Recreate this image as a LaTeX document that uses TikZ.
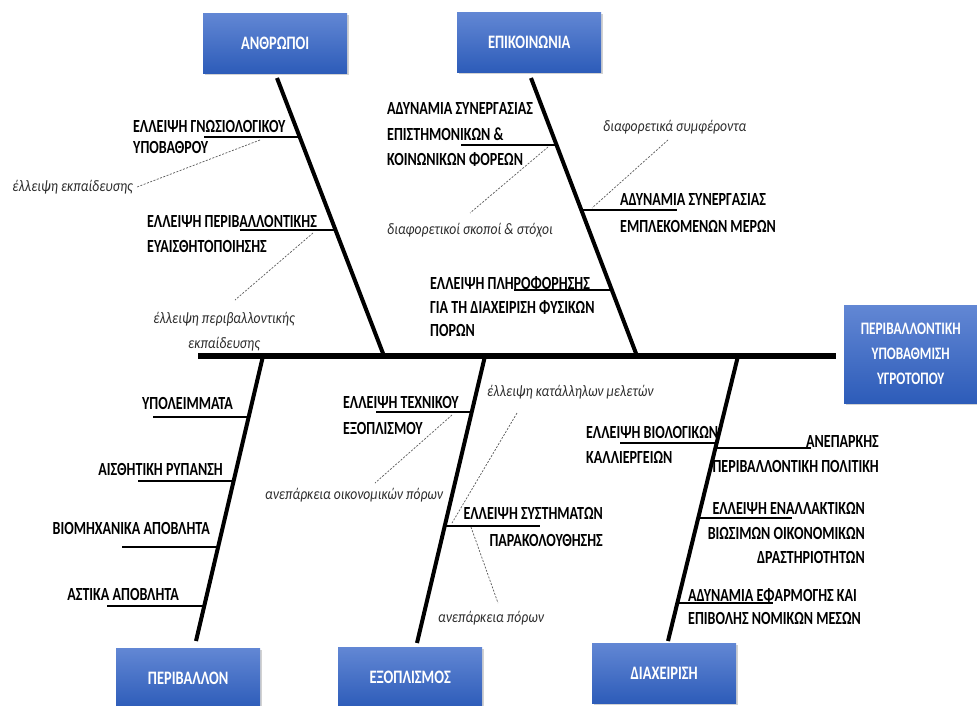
\documentclass[tikz,border=0pt]{standalone}
\usepackage{fontspec}
\newfontfamily\cf[FakeStretch=0.76]{Carlito}
\newfontfamily\cfi[FakeStretch=0.85]{Carlito}
\usetikzlibrary{shadows,calc}
\definecolor{boxtop}{RGB}{98,135,212}
\definecolor{boxbot}{RGB}{45,92,185}
\definecolor{dashgray}{RGB}{90,90,90}
\definecolor{ital}{RGB}{45,45,45}
\begin{document}
\begin{tikzpicture}[x=1pt,y=-1pt,
  catbox/.style={draw=none, top color=boxtop, bottom color=boxbot, minimum width=144pt, minimum height=60pt, inner sep=0pt, text=white, font=\cf\bfseries\fontsize{19}{25}\selectfont, drop shadow={shadow xshift=2pt,shadow yshift=-2pt,opacity=0.35}, anchor=north west},
  cause/.style={inner sep=0pt, font=\cf\bfseries\fontsize{18.5}{#1}\selectfont},
  cause/.default=24,
  note/.style={inner sep=0pt, text=ital, font=\cfi\itshape\fontsize{16}{#1}\selectfont},
  note/.default=25,
  bone/.style={line width=4pt},
  spine/.style={line width=6pt},
  twig/.style={line width=2pt},
  hint/.style={draw=dashgray, line width=0.7pt, dash pattern=on 2pt off 1.5pt}
]
\useasboundingbox[fill=white] (0,0) rectangle (977,705);

% category boxes
\node[catbox] (anth) at (203,13) {ΑΝΘΡΩΠΟΙ};
\node[catbox] (epik) at (457,12) {ΕΠΙΚΟΙΝΩΝΙΑ};
\node[catbox] (peri) at (116,648) {ΠΕΡΙΒΑΛΛΟΝ};
\node[catbox] (exop) at (338,647) {ΕΞΟΠΛΙΣΜΟΣ};
\node[catbox] (diax) at (592,643) {ΔΙΑΧΕΙΡΙΣΗ};
\node[catbox, minimum width=133pt, minimum height=98pt, align=center, font=\cf\bfseries\fontsize{17.5}{25}\selectfont] (eff) at (844,305) {ΠΕΡΙΒΑΛΛΟΝΤΙΚΗ\\ΥΠΟΒΑΘΜΙΣΗ\\ΥΓΡΟΤΟΠΟΥ};

% spine and bones
\coordinate (spL) at (198,356);
\coordinate (spR) at (836,356);
\coordinate (anTop) at (277,78);  \coordinate (anBot) at (384,356);
\coordinate (epTop) at (531,78);  \coordinate (epBot) at (637,356);
\coordinate (peTop) at (263,356); \coordinate (peBot) at (196,641);
\coordinate (exTop) at (485,356); \coordinate (exBot) at (417,643);
\coordinate (diTop) at (738,356); \coordinate (diBot) at (668,641);
\draw[spine] (spL) -- (spR);
\draw[bone] (anTop) -- (anBot);
\draw[bone] (epTop) -- (epBot);
\draw[bone] (peTop) -- (peBot);
\draw[bone] (exTop) -- (exBot);
\draw[bone] (diTop) -- (diBot);

% twigs
\draw[twig] ($(anTop)!0.2122!(anBot)$) coordinate (a1) -- ++(-96,0);
\draw[twig] ($(anTop)!0.5468!(anBot)$) coordinate (a2) -- ++(-96,0);
\draw[twig] ($(epTop)!0.241!(epBot)$) coordinate (e1) -- ++(-96,0);
\draw[twig] ($(epTop)!0.4748!(epBot)$) coordinate (e2) -- ++(96,0);
\draw[twig] ($(epTop)!0.7626!(epBot)$) coordinate (e3) -- ++(-98,0);
\draw[twig] ($(peTop)!0.214!(peBot)$) coordinate (p1) -- ++(-96,0);
\draw[twig] ($(peTop)!0.4386!(peBot)$) coordinate (p2) -- ++(-96,0);
\draw[twig] ($(peTop)!0.6702!(peBot)$) coordinate (p3) -- ++(-96,0);
\draw[twig] ($(peTop)!0.8772!(peBot)$) coordinate (p4) -- ++(-97,0);
\draw[twig] ($(exTop)!0.1951!(exBot)$) coordinate (x1) -- ++(-96,0);
\draw[twig] ($(exTop)!0.5923!(exBot)$) coordinate (x2) -- ++(95,0);
\draw[twig] ($(diTop)!0.3053!(diBot)$) coordinate (d1) -- ++(-97,0);
\draw[twig] ($(diTop)!0.3228!(diBot)$) coordinate (d2) -- ++(96,0);
\draw[twig] ($(diTop)!0.5684!(diBot)$) coordinate (d3) -- ++(94,0);
\draw[twig] ($(diTop)!0.8667!(diBot)$) coordinate (d4) -- ++(96,0);

% cause texts
\node[cause=21, align=left, anchor=west] (ta1) at (133,137) {ΕΛΛΕΙΨΗ ΓΝΩΣΙΟΛΟΓΙΚΟΥ\\ΥΠΟΒΑΘΡΟΥ};
\node[cause=25, align=left, anchor=west] (ta2) at (147,233.5) {ΕΛΛΕΙΨΗ ΠΕΡΙΒΑΛΛΟΝΤΙΚΗΣ\\ΕΥΑΙΣΘΗΤΟΠΟΙΗΣΗΣ};
\node[cause=25.5, align=left, anchor=west] (te1) at (387,134.5) {ΑΔΥΝΑΜΙΑ ΣΥΝΕΡΓΑΣΙΑΣ\\ΕΠΙΣΤΗΜΟΝΙΚΩΝ \&\\ΚΟΙΝΩΝΙΚΩΝ ΦΟΡΕΩΝ};
\node[cause=27, align=left, anchor=west] (te2) at (620,213.5) {ΑΔΥΝΑΜΙΑ ΣΥΝΕΡΓΑΣΙΑΣ\\ΕΜΠΛΕΚΟΜΕΝΩΝ ΜΕΡΩΝ};
\node[cause=23.5, align=left, anchor=west] (te3) at (430,307) {ΕΛΛΕΙΨΗ ΠΛΗΡΟΦΟΡΗΣΗΣ\\ΓΙΑ ΤΗ ΔΙΑΧΕΙΡΙΣΗ ΦΥΣΙΚΩΝ\\ΠΟΡΩΝ};
\node[cause, anchor=east] (tp1) at (233,403) {ΥΠΟΛΕΙΜΜΑΤΑ};
\node[cause, anchor=east] (tp2) at (223,469) {ΑΙΣΘΗΤΙΚΗ ΡΥΠΑΝΣΗ};
\node[cause, anchor=east] (tp3) at (210,528) {ΒΙΟΜΗΧΑΝΙΚΑ ΑΠΟΒΛΗΤΑ};
\node[cause, anchor=east] (tp4) at (179,594) {ΑΣΤΙΚΑ ΑΠΟΒΛΗΤΑ};
\node[cause=26, align=left, anchor=west] (tx1) at (343,415) {ΕΛΛΕΙΨΗ ΤΕΧΝΙΚΟΥ\\ΕΞΟΠΛΙΣΜΟΥ};
\node[cause=27, align=right, anchor=east] (tx2) at (603,526.5) {ΕΛΛΕΙΨΗ ΣΥΣΤΗΜΑΤΩΝ\\ΠΑΡΑΚΟΛΟΥΘΗΣΗΣ};
\node[cause=25, align=left, anchor=west] (td1) at (586,444.5) {ΕΛΛΕΙΨΗ ΒΙΟΛΟΓΙΚΩΝ\\ΚΑΛΛΙΕΡΓΕΙΩΝ};
\node[cause=25, align=right, anchor=east] (td2) at (879,454.5) {ΑΝΕΠΑΡΚΗΣ\\ΠΕΡΙΒΑΛΛΟΝΤΙΚΗ ΠΟΛΙΤΙΚΗ};
\node[cause=24.5, align=right, anchor=east] (td3) at (865,533) {ΕΛΛΕΙΨΗ ΕΝΑΛΛΑΚΤΙΚΩΝ\\ΒΙΩΣΙΜΩΝ ΟΙΚΟΝΟΜΙΚΩΝ\\ΔΡΑΣΤΗΡΙΟΤΗΤΩΝ};
\node[cause=23, align=left, anchor=west] (td4) at (688,606.5) {ΑΔΥΝΑΜΙΑ ΕΦΑΡΜΟΓΗΣ ΚΑΙ\\ΕΠΙΒΟΛΗΣ ΝΟΜΙΚΩΝ ΜΕΣΩΝ};

% notes
\node[note, anchor=east] (na1) at (133,187) {έλλειψη εκπαίδευσης};
\node[note=25, align=center] (na2) at (224,332) {έλλειψη περιβαλλοντικής\\εκπαίδευσης};
\node[note, anchor=west] (ne1) at (387,230) {διαφορετικοί σκοποί \& στόχοι};
\node[note, anchor=west] (ne2) at (603,127) {διαφορετικά συμφέροντα};
\node[note, anchor=west] (nx1) at (265,495) {ανεπάρκεια οικονομικών πόρων};
\node[note, anchor=west] (nx2) at (487,392) {έλλειψη κατάλληλων μελετών};
\node[note, anchor=west] (nx3) at (438,618) {ανεπάρκεια πόρων};

% dashed hints
\coordinate (ha1s) at (260,140); \coordinate (ha1e) at (137,187);
\coordinate (ha2s) at (313,233); \coordinate (ha2e) at (235,300);
\coordinate (he1s) at (548,147); \coordinate (he1e) at (470,213);
\coordinate (he2s) at (668,140); \coordinate (he2e) at (592,208);
\coordinate (hx1s) at (452,415); \coordinate (hx1e) at (375,483);
\coordinate (hx2s) at (517,413); \coordinate (hx2e) at (452,523);
\coordinate (hx3s) at (471,527); \coordinate (hx3e) at (498,603);
\draw[hint] (ha1s) -- (ha1e);
\draw[hint] (ha2s) -- (ha2e);
\draw[hint] (he1s) -- (he1e);
\draw[hint] (he2s) -- (he2e);
\draw[hint] (hx1s) -- (hx1e);
\draw[hint] (hx2s) -- (hx2e);
\draw[hint] (hx3s) -- (hx3e);
\end{tikzpicture}
\end{document}
